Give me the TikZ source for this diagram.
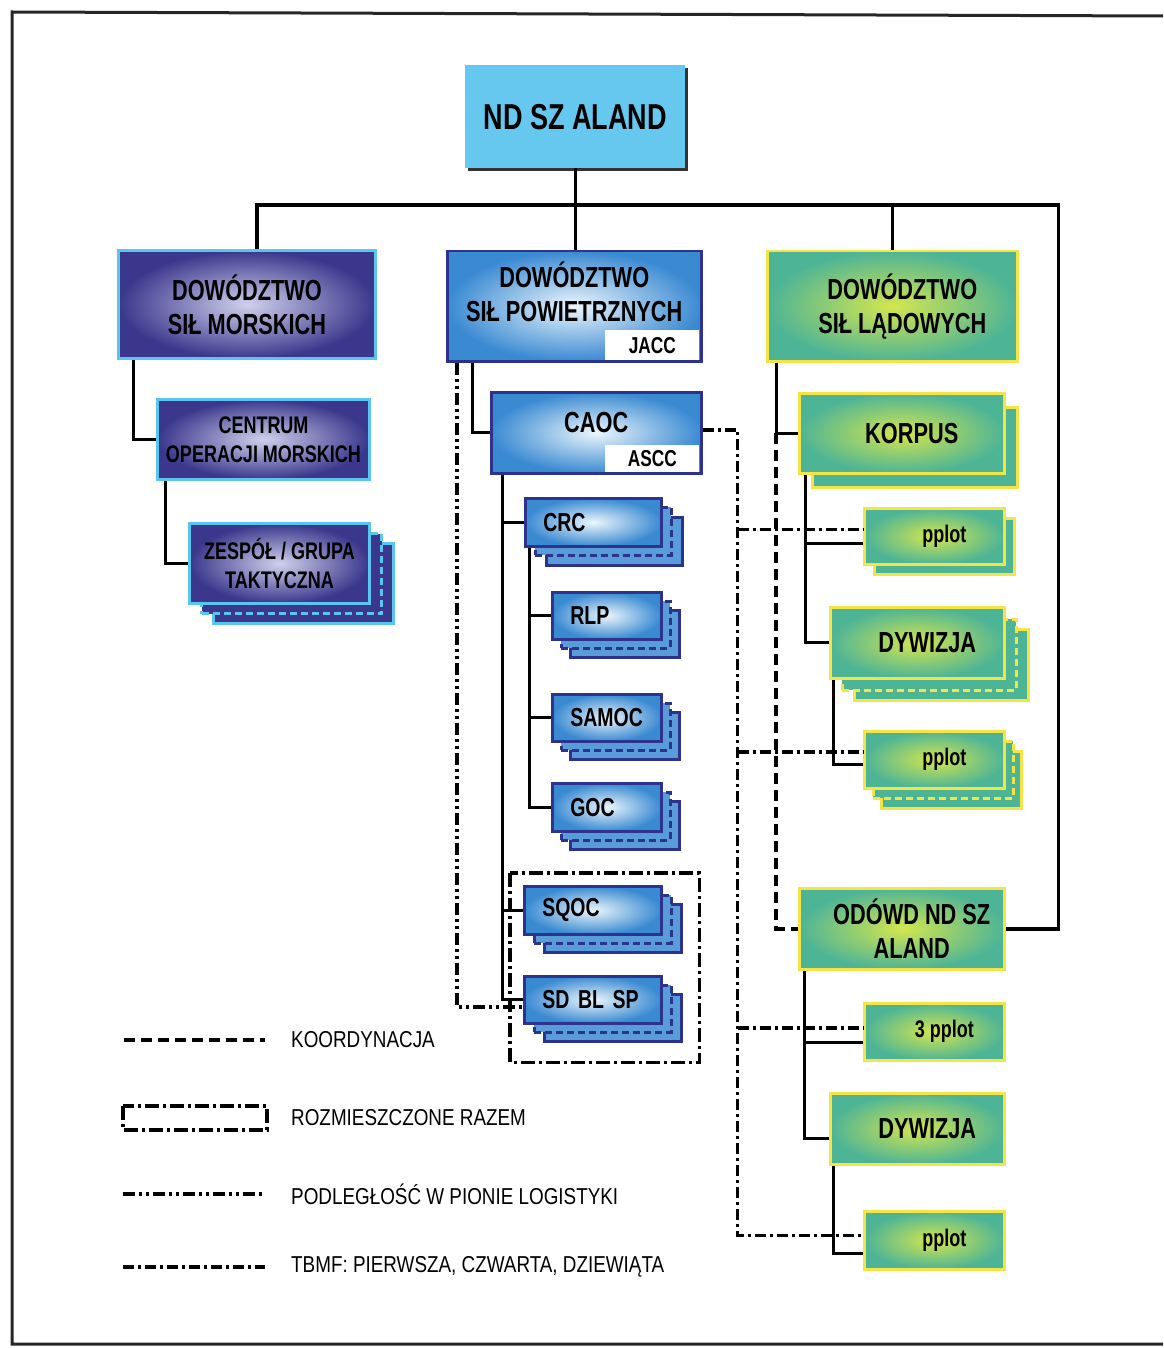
\documentclass[tikz,border=0pt]{standalone}
\usepackage{fontspec}
\usepackage{tikz}
\usetikzlibrary{positioning, shadows, calc}
\newfontfamily\boxfont[FakeStretch=0.75]{Liberation Sans}
\newfontfamily\legfont[FakeStretch=0.82]{Liberation Sans}
\definecolor{ndblue}{RGB}{102,200,238}
\definecolor{navyout}{RGB}{58,55,140}
\definecolor{navyin}{RGB}{208,208,236}
\definecolor{cyanline}{RGB}{90,198,240}
\definecolor{blueout}{RGB}{58,138,210}
\definecolor{bluein}{RGB}{236,246,252}
\definecolor{blueline}{RGB}{45,50,140}
\definecolor{greenout}{RGB}{78,180,150}
\definecolor{greenin}{RGB}{212,230,78}
\definecolor{yelline}{RGB}{245,228,70}
\newcommand\lifted[2]{\raisebox{#1}[0pt][0pt]{\begin{tabular}{@{}c@{}}#2\end{tabular}}}
\newcommand\gshift{\hspace*{20pt}}

\begin{document}
\begin{tikzpicture}[x=1pt, y=-1pt,
    every node/.style = {anchor=north west, inner sep=0pt, text=black, align=center},
    wh/.style 2 args = {minimum width=#1pt, minimum height=#2pt},
    ndfont/.style = {font=\boxfont\bfseries\fontsize{36}{42}\selectfont},
    headfont/.style = {font=\boxfont\bfseries\fontsize{29}{34}\selectfont},
    midfont/.style = {font=\boxfont\bfseries\fontsize{24}{29}\selectfont},
    smallfont/.style = {font=\boxfont\bfseries\fontsize{26}{30}\selectfont},
    pfont/.style = {font=\boxfont\bfseries\fontsize{24}{28}\selectfont},
    subfont/.style = {font=\boxfont\bfseries\fontsize{23}{27}\selectfont},
    legtext/.style = {anchor=west, font=\legfont\fontsize{23}{27}\selectfont},
    ndbox/.style = {fill=ndblue, copy shadow={shadow xshift=3pt, shadow yshift=-3pt, fill=black!80, draw=none}},
    navybox/.style = {inner color=navyin, outer color=navyout, draw=cyanline, line width=3pt},
    bluebox/.style = {inner color=bluein, outer color=blueout, draw=blueline, line width=2.5pt},
    greenbox/.style = {inner color=greenin, outer color=greenout, draw=yelline, line width=2.5pt},
    subbox/.style = {fill=white, anchor=south east, subfont},
    lbox/.style = {align=left, inner xsep=18pt, text width=#1pt},
    navystack/.style n args = {4}{
        copy shadow={shadow xshift=#3pt, shadow yshift=-#4pt, fill=navyout, draw=cyanline, line width=3pt},
        copy shadow={shadow xshift=#1pt, shadow yshift=-#2pt, fill=navyout, draw=cyanline, line width=3pt, dash pattern=on 7pt off 4pt}},
    bluestack/.style n args = {4}{
        copy shadow={shadow xshift=#3pt, shadow yshift=-#4pt, fill=blueout!85!white, draw=blueline, line width=2.5pt},
        copy shadow={shadow xshift=#1pt, shadow yshift=-#2pt, fill=blueout!85!white, draw=blueline, line width=2.5pt, dash pattern=on 7pt off 4pt}},
    greenstack/.style n args = {4}{
        copy shadow={shadow xshift=#3pt, shadow yshift=-#4pt, fill=greenout, draw=yelline, line width=2.5pt},
        copy shadow={shadow xshift=#1pt, shadow yshift=-#2pt, fill=greenout, draw=yelline, line width=2.5pt, dash pattern=on 7pt off 4pt}},
    greenone/.style 2 args = {copy shadow={shadow xshift=#1pt, shadow yshift=-#2pt, fill=greenout, draw=yelline, line width=2.5pt}},
    conn/.style = {draw, line width=3pt},
    busline/.style = {draw, line width=3.5pt},
    koord/.style = {draw, line width=4pt, dash pattern=on 11pt off 6pt},
    razem/.style = {draw, line width=3.5pt, dash pattern=on 14pt off 4pt on 3pt off 4pt},
    podleg/.style = {draw, line width=4pt, dash pattern=on 12pt off 4pt on 3pt off 4pt on 3pt off 4pt},
    tbmf/.style = {draw, line width=3.5pt, dash pattern=on 11pt off 4pt on 3pt off 4pt},
    frame/.style = {draw, line width=3pt, black!85}]
\useasboundingbox (0,0) rectangle (1163,1348);
\draw[frame] (1163,16) -- (12,12) -- (12,1344) -- (1163,1344);

\node (nd) [ndbox, wh={220}{103}, ndfont] at (465,65) {ND SZ ALAND};

\node (dsm) [navybox, wh={257}{108}, headfont] at (117,249) {DOWÓDZTWO\\SIŁ MORSKICH};
\node (dsp) [bluebox, wh={254}{110}, headfont] at (446,250) {\lifted{3pt}{DOWÓDZTWO\\SIŁ POWIETRZNYCH}};
\node (jacc) [subbox, wh={94}{30}] at ([shift={(-3,-2)}]dsp.south east) {JACC};
\node (dsl) [greenbox, wh={250}{110}, headfont] at (766,250) {\gshift DOWÓDZTWO\\\gshift SIŁ LĄDOWYCH};

\node (com) [navybox, wh={212}{80}, midfont] at (156,398) {CENTRUM\\OPERACJI MORSKICH};
\node (zgt) [navybox, navystack={12}{10}{24}{20}, wh={180}{80}, midfont] at (188,522) {ZESPÓŁ / GRUPA\\TAKTYCZNA};

\node (caoc) [bluebox, wh={210}{81}, headfont] at (490,391) {\lifted{1pt}{CAOC}};
\node (ascc) [subbox, wh={94}{27}] at ([shift={(-3,-2)}]caoc.south east) {ASCC};
\node (crc) [bluebox, bluestack={10}{9}{21}{19}, lbox=100, minimum height=48pt, smallfont] at (524,497) {CRC};
\node (rlp) [bluebox, bluestack={9}{9}{18}{18}, lbox=73, minimum height=47pt, smallfont] at (551,591) {RLP};
\node (samoc) [bluebox, bluestack={9}{9}{18}{18}, lbox=73, minimum height=47pt, smallfont] at (551,693) {SAMOC};
\node (goc) [bluebox, bluestack={9}{9}{18}{18}, lbox=73, minimum height=48pt, smallfont] at (551,782) {GOC};
\node (sqoc) [bluebox, bluestack={10}{9}{20}{18}, lbox=101, minimum height=48pt, smallfont] at (523,885) {SQOC};
\node (sdbl) [bluebox, bluestack={10}{9}{20}{18}, lbox=101, minimum height=47pt, smallfont] at (523,975) {SD BL SP};

\node (korpus) [greenbox, greenone={13}{14}, wh={205}{80}, headfont] at (798,392) {\gshift KORPUS};
\node (pplota) [greenbox, greenone={10}{10}, wh={140}{56}, pfont] at (863,507) {\gshift pplot};
\node (dywa) [greenbox, greenstack={12}{12}{24}{22}, wh={174}{71}, headfont] at (829,606) {\gshift DYWIZJA};
\node (pplotb) [greenbox, greenstack={9}{10}{17}{20}, wh={140}{57}, pfont] at (863,730) {\gshift pplot};
\node (odowd) [greenbox, wh={205}{81}, headfont] at (798,887) {\gshift ODÓWD ND SZ\\\gshift ALAND};
\node (pplotc) [greenbox, wh={140}{57}, pfont] at (863,1002) {\gshift 3 pplot};
\node (dywb) [greenbox, wh={174}{71}, headfont] at (829,1092) {\gshift DYWIZJA};
\node (pplotd) [greenbox, wh={140}{58}, pfont] at (863,1210) {\gshift pplot};

\node (lkoord) [legtext] at (291,1040) {KOORDYNACJA};
\node (lrazem) [legtext] at (291,1118) {ROZMIESZCZONE RAZEM};
\node (lpodleg) [legtext] at (291,1194) {PODLEGŁOŚĆ W PIONIE LOGISTYKI};
\node (ltbmf) [legtext] at (291,1267) {TBMF: PIERWSZA, CZWARTA, DZIEWIĄTA};

\coordinate (bus) at ($(nd.south)!0.45!(dsp.north)$);
\draw[conn] (nd.south) -- (nd.south |- dsp.north);
\draw[busline] ([xshift=10pt]dsm.north) |- (bus) -| ([xshift=53pt]odowd.east) -- (odowd.east);
\draw[conn] (dsl.north) -- (dsl.north |- bus);

\draw[conn] ([xshift=16pt]dsm.south west) |- (com.west);
\draw[conn] ([xshift=9pt]com.south west) |- (zgt.west);

\draw[conn] ([xshift=26pt]dsp.south west) |- (caoc.west);
\coordinate (ca) at ([xshift=12pt]caoc.south west);
\draw[conn] (ca) |- (sdbl.west);
\draw[conn] (ca |- crc.west) -- (crc.west);
\draw[conn] (ca |- sqoc.west) -- (sqoc.west);
\coordinate (cr) at ([xshift=5pt]crc.south west);
\draw[conn] (cr) |- (goc.west);
\draw[conn] (cr |- rlp.west) -- (rlp.west);
\draw[conn] (cr |- samoc.west) -- (samoc.west);
\draw[podleg] ([xshift=11pt]dsp.south west) |- ([yshift=-7pt]sdbl.west);
\draw[razem] ([shift={(-13,-12)}]sqoc.north west) rectangle ([shift={(37,38)}]sdbl.south east);

\coordinate (dl) at ([xshift=10pt]dsl.south west);
\draw[conn] (dl) |- (korpus.west);
\draw[koord] (dl |- korpus.west) |- (odowd.west);
\coordinate (ko) at ([xshift=7pt]korpus.south west);
\coordinate (qa) at ([yshift=-7pt]pplota.west);
\draw[conn] (ko) |- (dywa.west);
\draw[conn] (ko |- qa) -- (qa);
\draw[conn] ([xshift=4pt]dywa.south west) |- ([yshift=-5pt]pplotb.west);
\coordinate (od) at ([xshift=6pt]odowd.south west);
\coordinate (qc) at ([yshift=-11pt]pplotc.west);
\draw[conn] (od) |- ([yshift=-10pt]dywb.west);
\draw[conn] (od |- qc) -- (qc);
\draw[conn] ([xshift=4pt]dywb.south west) |- ([yshift=-13pt]pplotd.west);

\coordinate (tb) at ([shift={(35,-3)}]caoc.east);
\coordinate (pa) at ([yshift=7pt]pplota.west);
\coordinate (pb) at ([yshift=8pt]pplotb.west);
\coordinate (pc) at ([yshift=4pt]pplotc.west);
\draw[tbmf] ([yshift=3pt]caoc.east) -- (tb) |- ([yshift=5pt]pplotd.west);
\draw[tbmf] (tb |- pa) -- (pa);
\draw[tbmf] (tb |- pb) -- (pb);
\draw[tbmf] (tb |- pc) -- (pc);

\draw[koord] ([xshift=-167pt]lkoord.west) -- ([xshift=-26pt]lkoord.west);
\draw[razem] ([shift={(-168,-12)}]lrazem.west) rectangle ([shift={(-24,12)}]lrazem.west);
\draw[podleg] ([xshift=-168pt]lpodleg.west) -- ([xshift=-26pt]lpodleg.west);
\draw[tbmf] ([xshift=-168pt]ltbmf.west) -- ([xshift=-26pt]ltbmf.west);
\end{tikzpicture}
\end{document}
